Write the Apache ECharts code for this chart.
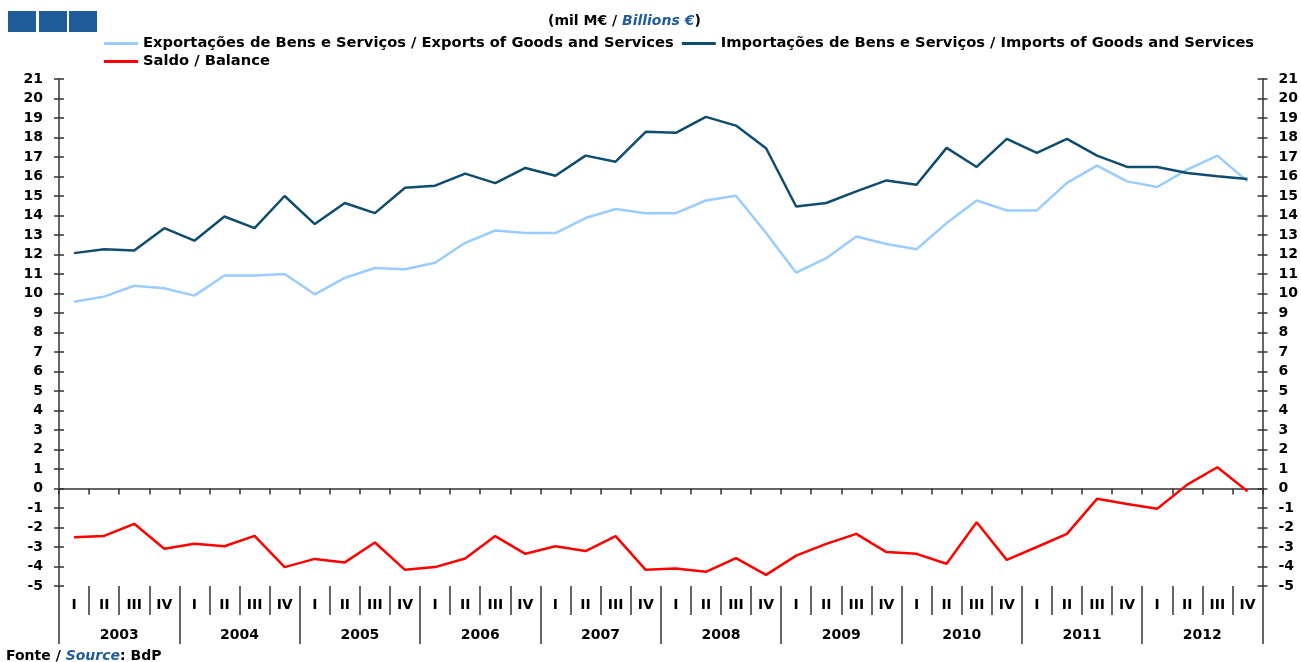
<!DOCTYPE html>
<html>
<head>
<meta charset="utf-8">
<script src="https://cdn.jsdelivr.net/npm/echarts@6/dist/echarts.min.js"></script>
<style>
    html, body { margin: 0; padding: 0; background: #fff; }
    #chart { width: 1301px; height: 662px; }
</style>
</head>
<body>
<div id="chart"></div>
<script>
    var years = ['2003', '2004', '2005', '2006', '2007', '2008', '2009', '2010', '2011', '2012'];
    var quarterNames = ['I', 'II', 'III', 'IV'];
    var quarters = [];
    years.forEach(function () {
        quarterNames.forEach(function (q) {
            quarters.push(q);
        });
    });

    var exportsData = [
        9.58, 9.84, 10.40, 10.27, 9.89, 10.92, 10.92, 11.00,
        9.96, 10.80, 11.31, 11.24, 11.58, 12.60, 13.23, 13.10,
        13.10, 13.87, 14.33, 14.12, 14.12, 14.77, 15.01, 13.10,
        11.07, 11.81, 12.92, 12.54, 12.27, 13.61, 14.77, 14.26,
        14.26, 15.67, 16.56, 15.75, 15.46, 16.35, 17.07, 15.75
    ];
    var importsData = [
        12.07, 12.27, 12.20, 13.35, 12.71, 13.95, 13.35, 15.00,
        13.56, 14.64, 14.12, 15.42, 15.53, 16.15, 15.66, 16.44,
        16.04, 17.07, 16.76, 18.29, 18.24, 19.06, 18.61, 17.45,
        14.46, 14.64, 15.24, 15.80, 15.58, 17.47, 16.49, 17.93,
        17.21, 17.93, 17.07, 16.49, 16.49, 16.18, 16.01, 15.87
    ];
    var balanceData = [
        -2.50, -2.43, -1.81, -3.09, -2.83, -2.96, -2.43, -4.03,
        -3.61, -3.79, -2.77, -4.17, -4.03, -3.59, -2.44, -3.35,
        -2.96, -3.21, -2.44, -4.17, -4.10, -4.27, -3.57, -4.43,
        -3.44, -2.84, -2.33, -3.26, -3.35, -3.86, -1.73, -3.66,
        -3.00, -2.33, -0.53, -0.79, -1.04, 0.20, 1.09, -0.14
    ];

    var font = 'DejaVu Sans';
    var axisColor = '#333';
    var blue = '#1F5C99';

    function valueAxis(position, withLabels, inside) {
        return {
            type: 'value',
            position: position,
            min: -5,
            max: 21,
            interval: 1,
            splitLine: { show: false },
            axisLine: { show: withLabels, lineStyle: { color: axisColor, width: 1.5 } },
            axisTick: { show: true, inside: inside, length: 5, lineStyle: { color: axisColor, width: 1.5 } },
            axisLabel: {
                show: withLabels,
                margin: 16,
                fontFamily: font,
                fontWeight: 'bold',
                fontSize: 14,
                color: '#000'
            }
        };
    }

    var legendText = { fontFamily: font, fontWeight: 'bold', fontSize: 14.7, color: '#000' };

    var chart = echarts.init(document.getElementById('chart'));

    chart.setOption({
        animation: false,
        backgroundColor: '#fff',
        title: [
            {
                text: '(mil M€ / {b|Billions €})',
                left: 548,
                top: 14,
                padding: 0,
                textStyle: {
                    fontFamily: font,
                    fontWeight: 'bold',
                    fontSize: 14,
                    color: '#000',
                    rich: {
                        b: { fontFamily: font, fontWeight: 'bold', fontStyle: 'italic', fontSize: 14, color: blue }
                    }
                }
            },
            {
                text: 'Fonte / {b|Source}: BdP',
                left: 6,
                top: 649,
                padding: 0,
                textStyle: {
                    fontFamily: font,
                    fontWeight: 'bold',
                    fontSize: 14,
                    color: '#000',
                    rich: {
                        b: { fontFamily: font, fontWeight: 'bold', fontStyle: 'italic', fontSize: 14, color: blue }
                    }
                }
            }
        ],
        legend: [
            {
                data: ['Exportações de Bens e Serviços / Exports of Goods and Services',
                    'Importações de Bens e Serviços / Imports of Goods and Services'],
                left: 104,
                top: 36,
                padding: 0,
                icon: 'rect',
                itemWidth: 34,
                itemHeight: 3,
                itemGap: 8,
                textStyle: legendText
            },
            {
                data: ['Saldo / Balance'],
                left: 104,
                top: 54,
                padding: 0,
                icon: 'rect',
                itemWidth: 34,
                itemHeight: 3,
                textStyle: legendText
            }
        ],
        graphic: [
            { type: 'rect', shape: { x: 8, y: 11, width: 28, height: 21 }, style: { fill: blue } },
            { type: 'rect', shape: { x: 39, y: 11, width: 28, height: 21 }, style: { fill: blue } },
            { type: 'rect', shape: { x: 69, y: 11, width: 28, height: 21 }, style: { fill: blue } }
        ],
        grid: {
            left: 59,
            right: 34,
            top: 79,
            bottom: 76,
            containLabel: false
        },
        xAxis: [
            // zero line with small ticks
            {
                type: 'category',
                data: quarters,
                boundaryGap: true,
                axisLine: { onZero: true, onZeroAxisIndex: 0, lineStyle: { color: axisColor, width: 1.5 } },
                axisTick: { show: true, interval: 0, length: 6, lineStyle: { color: axisColor, width: 1.5 } },
                axisLabel: { show: false },
                splitLine: { show: false }
            },
            // quarter labels
            {
                type: 'category',
                data: quarters,
                position: 'bottom',
                boundaryGap: true,
                axisLine: { show: false, onZero: false },
                axisTick: { show: true, interval: 0, length: 29, lineStyle: { color: axisColor, width: 1.5 } },
                axisLabel: {
                    interval: 0,
                    margin: 12,
                    fontFamily: font,
                    fontWeight: 'bold',
                    fontSize: 14,
                    color: '#000'
                },
                splitLine: { show: false }
            },
            // year labels
            {
                type: 'category',
                data: years,
                position: 'bottom',
                boundaryGap: true,
                axisLine: { show: false, onZero: false },
                axisTick: { show: true, interval: 0, length: 58, lineStyle: { color: axisColor, width: 1.5 } },
                axisLabel: {
                    interval: 0,
                    margin: 42,
                    fontFamily: font,
                    fontWeight: 'bold',
                    fontSize: 14,
                    color: '#000'
                },
                splitLine: { show: false }
            }
        ],
        yAxis: [
            valueAxis('left', true, false),
            valueAxis('right', true, false),
            valueAxis('left', false, true),
            valueAxis('right', false, true)
        ],
        series: [
            {
                name: 'Exportações de Bens e Serviços / Exports of Goods and Services',
                type: 'line',
                symbol: 'none',
                color: '#99CCFF',
                lineStyle: { width: 2.5 },
                data: exportsData
            },
            {
                name: 'Importações de Bens e Serviços / Imports of Goods and Services',
                type: 'line',
                symbol: 'none',
                color: '#0F4C6E',
                lineStyle: { width: 2.5 },
                data: importsData
            },
            {
                name: 'Saldo / Balance',
                type: 'line',
                symbol: 'none',
                color: '#FF0000',
                lineStyle: { width: 2.5 },
                data: balanceData
            }
        ]
    });
</script>
</body>
</html>
